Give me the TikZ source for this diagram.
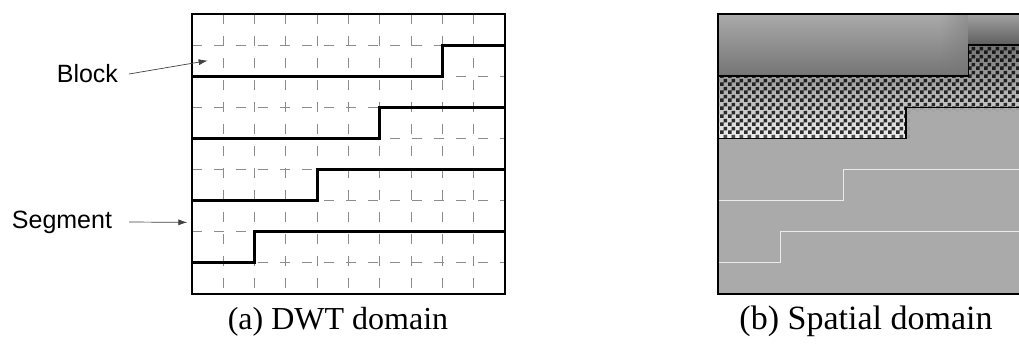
\documentclass[tikz,border=0pt]{standalone}
\usepackage{fontspec}
\newfontfamily\labelfont{Liberation Sans}
\newfontfamily\capfont{Liberation Serif}
\usetikzlibrary{positioning,patterns,fadings,arrows.meta}
\definecolor{panelgray}{RGB}{170,170,170}
\definecolor{shadowgray}{RGB}{116,116,116}
\definecolor{checkgray}{RGB}{115,115,115}
\definecolor{checklight}{RGB}{240,240,240}
\definecolor{gridgray}{RGB}{140,140,140}

% small checkerboard for the marked band
\pgfdeclarepatternformonly{finechecks}{\pgfpointorigin}{\pgfqpoint{8pt}{8pt}}{\pgfqpoint{8pt}{8pt}}{%
  \pgfpathrectangle{\pgfpointorigin}{\pgfqpoint{4pt}{4pt}}%
  \pgfpathrectangle{\pgfqpoint{4pt}{4pt}}{\pgfqpoint{4pt}{4pt}}%
  \pgfusepath{fill}}
\tikzfading[name=toright, left color=transparent!100, right color=transparent!0]

\begin{document}
\begin{tikzpicture}[x=1pt ,y=-1pt ,tag/.style ={font=\labelfont\fontsize{25}{30}\selectfont ,inner sep=0pt ,outer xsep=11pt ,anchor=east}, caption/.style ={font=\capfont ,inner sep=0pt ,anchor=base}, pointer/.style ={-{Latex[length=9pt,width=6pt]} ,black!75 ,line width=0.7pt}, gridline/.style ={gridgray ,line width=0.9pt ,dash pattern=on 10pt off 12pt}, panelbox/.style ={line width=1.5pt}, stair/.style ={line width=3pt}, bandline/.style ={line width=1.5pt}, faint/.style ={white!92!black ,line width=1.1pt}]
\useasboundingbox (0,0) rectangle (1019,349);

% (a) coefficient grid with the segment boundaries
\begin{scope}[shift={(192pt,-14pt)}, x=31.3pt, y=-31.1pt]
\foreach \i in {1,...,9} \draw[gridline] (\i,0) -- (\i,9);
\foreach \j in {1,...,8} \draw[gridline] (0,\j) -- (10,\j);
\foreach \up/\row in {8/1,6/3,4/5,2/7}
  \draw[stair] (0,\row+1) -| (\up,\row) -- (10,\row);
\draw[panelbox] (0,0) rectangle (10,9);
\coordinate (blockhit) at (0.5,1.5);
\coordinate (segmenthit) at (-0.15,6.7);
\end{scope}

% (b) the same blocks in the image
\begin{scope}[shift={(718pt,-14pt)}, x=31.3pt, y=-31.1pt]
\fill[panelgray] (0,0) rectangle (10,9);
\shade[top color=panelgray, middle color=panelgray!80!shadowgray, bottom color=shadowgray] (0,0) -- (10,0) -- (10,1) -- (8,1) -- (8,2) -- (0,2) -- cycle;
\fill[shadowgray, path fading=toright, opacity=.45] (7.1,0) rectangle (8,2);
\shade[top color=panelgray!85!shadowgray, bottom color=shadowgray!80!black] (8,0) rectangle (10,1);
\shade[top color=checkgray, bottom color=checklight, postaction={pattern=finechecks, pattern color=black, fill opacity=.8}] (0,2) -- (8,2) -- (8,1) -- (10,1) -- (10,3) -- (6,3) -- (6,4) -- (0,4) -- cycle;
% soft fringe under the band
\fill[pattern=finechecks, pattern color=gray, fill opacity=.35] (0,4) -- (6.13,4) -- (6.13,3.13) -- (10,3.13) -- (10,3) -- (6,3) -- (6,3.87) -- (0,3.87) -- cycle;
\draw[bandline] (0,2) -| (8,1) -- (10,1);
\draw[bandline] (0,4) -| (6,3) -- (10,3);
\draw[faint] (0,6) -| (4,5) -- (10,5);
\draw[faint] (0,8) -| (2,7) -- (10,7);
\draw[panelbox] (0,0) rectangle (10,9);
\end{scope}

% labels and pointers
\node[tag] (block) at (129,74) {Block};
\node[tag, outer xsep=17pt] (segment) at (129,222) {Segment};
\draw[pointer] (block.east) -- (blockhit);
\draw[pointer] (segment.east) -- (segmenthit);

\node[caption, font=\capfont\fontsize{32}{36}\selectfont] (dwtcap) at (338,329) {(a) DWT domain};
\node[caption, font=\capfont\fontsize{34}{38}\selectfont] (spacecap) at (866,329) {(b) Spatial domain};
\end{tikzpicture}
\end{document}
